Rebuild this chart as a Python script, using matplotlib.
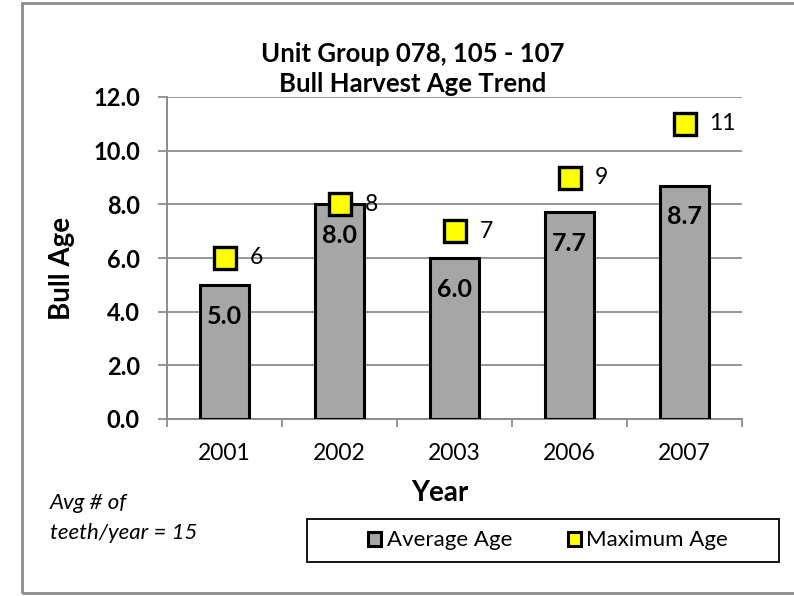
import matplotlib
matplotlib.use("Agg")
import matplotlib.pyplot as plt
from matplotlib.patches import Patch, Rectangle

plt.rcParams["font.family"] = ["Lato", "DejaVu Sans"]

years = ["2001", "2002", "2003", "2006", "2007"]
avg_age = [5.0, 8.0, 6.0, 7.7, 8.7]
max_age = [6, 8, 7, 9, 11]
y_ticks = [0, 2, 4, 6, 8, 10, 12]

W, H = 794, 596
fig = plt.figure(figsize=(W / 100, H / 100), dpi=100)

# plot area in pixel coords of the reference
left, right, top, bottom = 167, 742, 97, 419
ax = fig.add_axes([left / W, 1 - bottom / H, (right - left) / W, (bottom - top) / H])

x = list(range(len(years)))
ax.bar(x, avg_age, width=0.42, color="#A6A6A6", edgecolor="black", linewidth=2.2, zorder=3)
ax.plot(x, max_age, linestyle="none", marker="s", markersize=16, markerfacecolor="#FFFF00",
        markeredgecolor="black", markeredgewidth=2.4, zorder=4, clip_on=False)

for xi, v in zip(x, avg_age):
    ax.annotate(f"{v:.1f}", (xi, v), xytext=(0, -22.5), textcoords="offset points",
                ha="center", va="center", fontsize=18, fontweight="bold", zorder=5)
for xi, v in zip(x, max_age):
    ax.annotate(f"{v}", (xi, v), xytext=(18, 0), textcoords="offset points",
                ha="left", va="center", fontsize=16.5, zorder=5)

ax.set_xlim(-0.5, len(years) - 0.5)
ax.set_ylim(0, 12)
ax.set_yticks(y_ticks)
ax.set_yticklabels([f"{t:.1f}" for t in y_ticks], fontsize=17, fontweight="bold")
ax.yaxis.grid(True, color="#969696", linewidth=1.4, zorder=0)
ax.tick_params(axis="y", direction="out", length=6.5, width=1.3, color="#8c8c8c", pad=13)

# category boundaries as major ticks, labels on minor ticks
ax.set_xticks([i - 0.5 for i in range(len(years) + 1)])
ax.set_xticklabels([])
ax.set_xticks(x, minor=True)
ax.set_xticklabels(years, minor=True, fontsize=16.5)
ax.tick_params(axis="x", which="major", direction="out", length=6, width=1.3, color="#8c8c8c")
ax.tick_params(axis="x", which="minor", length=0, pad=17)

for s in ["top", "right"]:
    ax.spines[s].set_visible(False)
for s in ["left", "bottom"]:
    ax.spines[s].set_color("#8c8c8c")
    ax.spines[s].set_linewidth(1.4)

ax.set_ylabel("Bull Age", fontsize=20, fontweight="bold", va="center")
ax.yaxis.set_label_coords((62 - left) / (right - left), (bottom - 268) / (bottom - top))
ax.set_xlabel("Year", fontsize=20, fontweight="bold", va="center")
ax.xaxis.set_label_coords((440 - left) / (right - left), (bottom - 493) / (bottom - top))

fig.text(413 / W, 1 - 54 / H, "Unit Group 078, 105 - 107", ha="center", va="center",
         fontsize=18.5, fontweight="bold")
fig.text(413 / W, 1 - 84 / H, "Bull Harvest Age Trend", ha="center", va="center",
         fontsize=18.5, fontweight="bold")

fig.text(50 / W, 1 - 503 / H, "Avg # of", ha="left", va="center", fontsize=16, style="italic")
fig.text(50 / W, 1 - 533 / H, "teeth/year = 15", ha="left", va="center", fontsize=16, style="italic")

# legend box drawn separately, entries placed inside it
fig.patches.append(Rectangle((307 / W, 1 - 562 / H), 472 / W, 43 / H, transform=fig.transFigure,
                             facecolor="white", edgecolor="black", linewidth=1.3))
handles = [Patch(facecolor="#A6A6A6", edgecolor="black", linewidth=2.2, label="Average Age"),
           Patch(facecolor="#FFFF00", edgecolor="black", linewidth=2.2, label="Maximum Age")]
fig.legend(handles=handles, loc="center", bbox_to_anchor=(548 / W, 1 - 540.5 / H), ncol=2,
           frameon=False, fontsize=16, handlelength=0.6, handleheight=0.6,
           handletextpad=0.25, columnspacing=2.5)

# outer chart border
fig.patches.append(Rectangle((22 / W, 1 - 593 / H), 800 / W, 590 / H, transform=fig.transFigure,
                             facecolor="none", edgecolor="#8c8c8c", linewidth=2))

fig.savefig("out.png", dpi=100)
